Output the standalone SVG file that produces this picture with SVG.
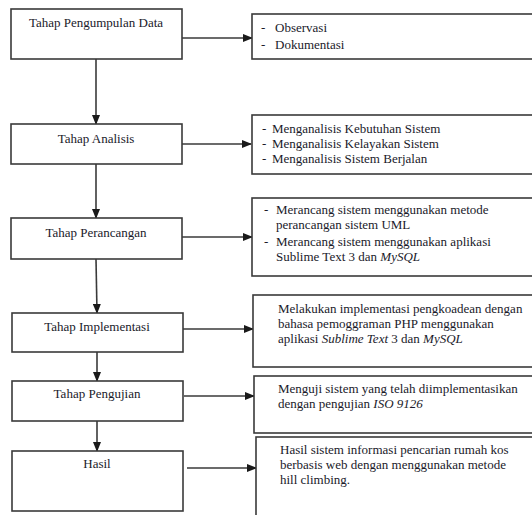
<svg xmlns="http://www.w3.org/2000/svg" width="532" height="515" viewBox="0 0 532 515">
<style>
.box{fill:#fff;stroke:#3a3a3a;stroke-width:1.6}
.t{font-family:"Liberation Serif","Times New Roman",serif;font-size:13px;fill:#1a1a2a}
.c{text-anchor:middle}
.ln{stroke:#3a3a3a;stroke-width:1.6;fill:none}
</style>
<defs>
<marker id="ah" markerWidth="10" markerHeight="8" refX="9" refY="4" orient="auto" markerUnits="userSpaceOnUse">
<path d="M0,0 L10,4 L0,8 Z" fill="#1a1a1a"/>
</marker>
</defs>
<rect width="532" height="515" fill="#fff"/>
<g id="connectors">
<line class="ln" x1="96" y1="59" x2="96" y2="124" marker-end="url(#ah)"/>
<line class="ln" x1="96" y1="164" x2="96" y2="218" marker-end="url(#ah)"/>
<line class="ln" x1="96" y1="259" x2="97" y2="313" marker-end="url(#ah)"/>
<line class="ln" x1="97" y1="352" x2="97" y2="381" marker-end="url(#ah)"/>
<line class="ln" x1="97" y1="421" x2="97" y2="451" marker-end="url(#ah)"/>
<line class="ln" x1="182" y1="38" x2="252" y2="38" marker-end="url(#ah)"/>
<line class="ln" x1="182" y1="144" x2="251" y2="144" marker-end="url(#ah)"/>
<line class="ln" x1="182" y1="237" x2="252" y2="237" marker-end="url(#ah)"/>
<line class="ln" x1="183" y1="329" x2="253" y2="329" marker-end="url(#ah)"/>
<line class="ln" x1="184" y1="396" x2="254" y2="396" marker-end="url(#ah)"/>
<line class="ln" x1="187" y1="468" x2="256" y2="468" marker-end="url(#ah)"/>
</g>
<g id="n1"><rect class="box" x="11" y="9" width="171" height="50"/><text class="t c" x="96" y="27">Tahap Pengumpulan Data</text></g>
<g id="n2"><rect class="box" x="11" y="124" width="171" height="40"/><text class="t c" x="96" y="143">Tahap Analisis</text></g>
<g id="n3"><rect class="box" x="11" y="218" width="171" height="41"/><text class="t c" x="96" y="237">Tahap Perancangan</text></g>
<g id="n4"><rect class="box" x="12" y="313" width="171" height="39"/><text class="t c" x="97" y="331">Tahap Implementasi</text></g>
<g id="n5"><rect class="box" x="12" y="381" width="171" height="40"/><text class="t c" x="97" y="398">Tahap Pengujian</text></g>
<g id="n6"><rect class="box" x="12" y="451" width="171" height="60"/><text class="t c" x="97" y="468">Hasil</text></g>
<g id="r1"><rect class="box" x="252" y="14" width="290" height="45"/>
<text class="t" x="261" y="32">-</text><text class="t" x="275" y="32">Observasi</text>
<text class="t" x="261" y="49">-</text><text class="t" x="275" y="49">Dokumentasi</text></g>
<g id="r2"><rect class="box" x="252" y="115" width="290" height="59"/>
<text class="t" x="262" y="133">-</text><text class="t" x="272" y="133">Menganalisis Kebutuhan Sistem</text>
<text class="t" x="262" y="148">-</text><text class="t" x="272" y="148">Menganalisis Kelayakan Sistem</text>
<text class="t" x="262" y="163">-</text><text class="t" x="272" y="163">Menganalisis Sistem Berjalan</text></g>
<g id="r3"><rect class="box" x="252" y="198" width="290" height="78"/>
<text class="t" x="264" y="214">-</text><text class="t" x="276" y="214">Merancang sistem menggunakan metode</text>
<text class="t" x="276" y="229">perancangan sistem UML</text>
<text class="t" x="264" y="246">-</text><text class="t" x="276" y="246">Merancang sistem menggunakan aplikasi</text>
<text class="t" x="276" y="261">Sublime Text 3 dan <tspan font-style="italic">MySQL</tspan></text></g>
<g id="r4"><rect class="box" x="253" y="295" width="290" height="72"/>
<text class="t" x="278" y="313">Melakukan implementasi pengkoadean dengan</text>
<text class="t" x="278" y="328">bahasa pemoggraman PHP menggunakan</text>
<text class="t" x="278" y="343">aplikasi <tspan font-style="italic">Sublime Text</tspan> 3 dan <tspan font-style="italic">MySQL</tspan></text></g>
<g id="r5"><rect class="box" x="254" y="376" width="290" height="57"/>
<text class="t" x="278" y="393">Menguji sistem yang telah diimplementasikan</text>
<text class="t" x="278" y="408">dengan pengujian <tspan font-style="italic">ISO 9126</tspan></text></g>
<g id="r6"><rect class="box" x="256" y="437" width="290" height="90"/>
<text class="t" x="280" y="454">Hasil sistem informasi pencarian rumah kos</text>
<text class="t" x="280" y="469">berbasis web dengan menggunakan metode</text>
<text class="t" x="280" y="484">hill climbing.</text></g>
</svg>
